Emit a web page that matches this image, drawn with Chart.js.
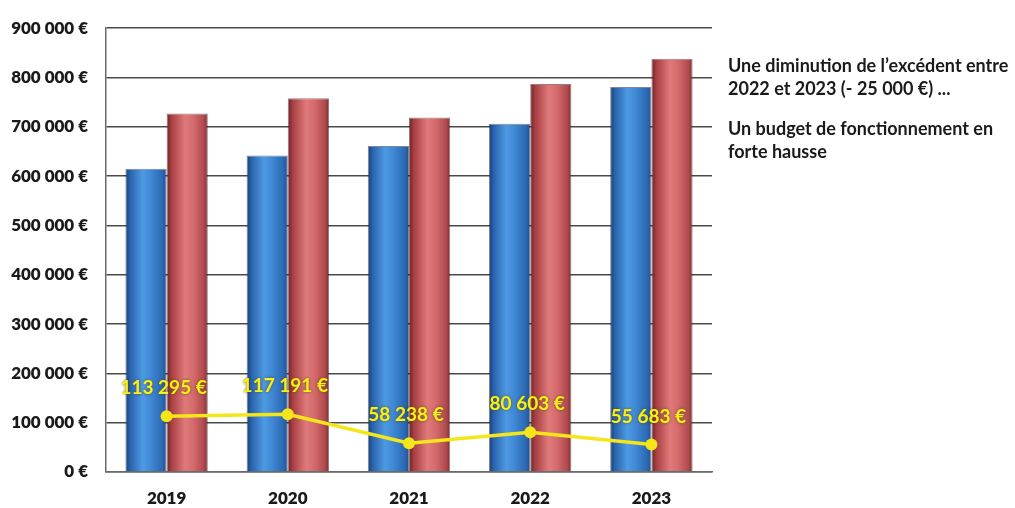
<!DOCTYPE html>
<html lang="fr">
<head>
<meta charset="utf-8">
<title>Budget de fonctionnement 2019-2023</title>
<script src="https://cdn.jsdelivr.net/npm/chart.js@4.4.1/dist/chart.umd.min.js"></script>
<style>
  html, body { margin: 0; padding: 0; background: #fff; }
  #wrap { position: relative; width: 1015px; height: 508px; }
  #chart { position: absolute; left: 0; top: 0; }
  .note {
    position: absolute; left: 728px;
    font-family: Lato, "Open Sans", sans-serif; font-weight: 700;
    font-size: 18px; line-height: 23px; color: #1a1a1a; white-space: nowrap;
  }
</style>
</head>
<body>
<div id="wrap">
  <canvas id="chart" width="1015" height="508"></canvas>
  <div class="note" style="top:54px">Une diminution de l’excédent entre<br>2022 et 2023 (- 25 000 €) ...</div>
  <div class="note" style="top:117px">Un budget de fonctionnement en<br>forte hausse</div>
</div>
<script>
// Years shown on the category axis
const years = ['2019', '2020', '2021', '2022', '2023'];
// Blue bars
const blueValues = [615000, 642000, 661000, 706000, 781000];
// Red bars
const redValues = [727000, 758000, 719000, 787000, 838000];
// Surplus (yellow line), as printed above each point
const surplusValues = [113295, 117191, 58238, 80603, 55683];

// Value axis range
const yMin = 0;
const yMax = 900000;
const yStep = 100000;

const CATEGORY_PCT = 0.68;
const FONT = 'Lato, "Open Sans", sans-serif';

function euro(v) {
  return String(Math.round(v)).replace(/\B(?=(\d{3})+(?!\d))/g, ' ') + ' €';
}

// Horizontal gradient giving each bar a rounded, cylinder look
function cylinder(stops, side) {
  return function (ctx) {
    const chart = ctx.chart;
    const xs = chart.scales.x;
    if (!xs || !chart.chartArea) return stops[2][1];
    const center = xs.getPixelForValue(ctx.dataIndex);
    const w = xs.width / years.length * CATEGORY_PCT / 2;
    const x0 = side === 0 ? center - w : center;
    const g = chart.ctx.createLinearGradient(x0, 0, x0 + w, 0);
    stops.forEach(s => g.addColorStop(s[0], s[1]));
    return g;
  };
}

const blueStops = [
  [0, '#173f78'], [0.12, '#2a64ad'], [0.42, '#4d9ae3'],
  [0.62, '#3f88d4'], [0.9, '#2b68b2'], [1, '#1f4f8f']
];
const redStops = [
  [0, '#6b2226'], [0.12, '#a83f43'], [0.45, '#e07a7a'],
  [0.65, '#d46a6c'], [0.9, '#b04a4e'], [1, '#7d2c30']
];

// Value labels above the line points
const pointLabels = {
  id: 'pointLabels',
  afterDatasetsDraw(chart) {
    const meta = chart.getDatasetMeta(2);
    const c = chart.ctx;
    c.save();
    c.font = '700 19px ' + FONT;
    c.textAlign = 'center';
    c.textBaseline = 'middle';
    c.shadowColor = 'rgba(90, 70, 0, 0.85)';
    c.shadowBlur = 3;
    c.fillStyle = '#f8f01a';
    meta.data.forEach((pt, i) => {
      c.fillText(euro(surplusValues[i]), pt.x - 3, pt.y - 28);
    });
    c.restore();
  }
};

new Chart(document.getElementById('chart'), {
  type: 'bar',
  data: {
    labels: years,
    datasets: [
      {
        data: blueValues,
        backgroundColor: cylinder(blueStops, 0),
        borderColor: 'rgba(15, 35, 70, 0.55)',
        borderWidth: 1,
        order: 1
      },
      {
        data: redValues,
        backgroundColor: cylinder(redStops, 1),
        borderColor: 'rgba(70, 20, 20, 0.55)',
        borderWidth: 1,
        order: 2
      },
      {
        type: 'line',
        data: surplusValues,
        borderColor: '#f5e61a',
        backgroundColor: '#f5e61a',
        borderWidth: 3.5,
        pointRadius: 6,
        pointHoverRadius: 6,
        pointBorderWidth: 0,
        tension: 0,
        order: 0
      }
    ]
  },
  options: {
    responsive: false,
    animation: false,
    layout: { padding: { top: 20, right: 303, bottom: 0, left: 0 } },
    plugins: { legend: { display: false }, tooltip: { enabled: false } },
    datasets: { bar: { categoryPercentage: CATEGORY_PCT, barPercentage: 1 } },
    scales: {
      x: {
        afterFit(scale) { scale.height = 36; },
        grid: { display: false, drawTicks: false },
        border: { display: true, color: '#6a6a6a', width: 1.5 },
        ticks: {
          padding: 16,
          color: '#1a1a1a',
          font: { family: FONT, weight: '800', size: 17 }
        }
      },
      y: {
        min: yMin,
        max: yMax,
        afterFit(scale) { scale.width = 106; },
        grid: { color: '#4a4a4a', lineWidth: 1.5, drawTicks: false },
        border: { display: true, color: '#6a6a6a', width: 1.5 },
        ticks: {
          stepSize: yStep,
          padding: 18,
          color: '#1a1a1a',
          font: { family: FONT, weight: '800', size: 17 },
          callback: v => euro(v)
        }
      }
    }
  },
  plugins: [pointLabels]
});
</script>
</body>
</html>
